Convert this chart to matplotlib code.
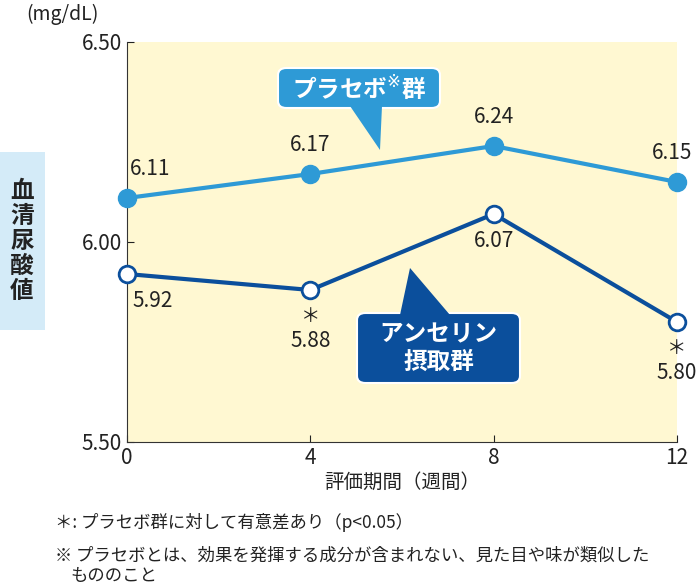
import matplotlib
matplotlib.use("Agg")
import matplotlib.pyplot as plt
from matplotlib.patches import FancyBboxPatch, Polygon

plt.rcParams["font.family"] = "Noto Sans CJK JP"

weeks = [0, 4, 8, 12]
placebo = [6.11, 6.17, 6.24, 6.15]
anserine = [5.92, 5.88, 6.07, 5.80]
sig = [False, True, False, True]
yticks = [5.50, 6.00, 6.50]

cP = "#2E9AD6"
cA = "#0B4F9C"

fig = plt.figure(figsize=(7, 5.87), dpi=100)
ax = fig.add_axes([127/700, 1-442/587, 550/700, 400/587])
ax.set_facecolor("#FFF8D2")
ax.set_xlim(0, 12)
ax.set_ylim(5.5, 6.5)
for s in ["top", "right"]:
    ax.spines[s].set_visible(False)
ax.spines["left"].set_color("#333333")
ax.spines["bottom"].set_color("#333333")
ax.set_xticks(weeks)
ax.set_yticks(yticks)
ax.set_yticklabels([f"{v:.2f}" for v in yticks])
ax.tick_params(labelsize=15, colors="#222222", direction="in", length=5)

ax.plot(weeks, placebo, color=cP, lw=3, marker="o", ms=13, zorder=3, clip_on=False)
ax.plot(weeks, anserine, color=cA, lw=3, marker="o", ms=12, mfc="white",
        mec=cA, mew=2, zorder=3, clip_on=False)

for x, v in zip(weeks, placebo):
    dx = 0.5 if x == 0 else (-0.1 if x == 12 else 0)
    ax.text(x + dx, v + 0.045, f"{v:.2f}", ha="center", va="bottom", fontsize=15, color="#222222")
for x, v, s in zip(weeks, anserine, sig):
    dx = 0.55 if x == 0 else 0
    if s:
        ax.text(x, v - 0.04, "＊", ha="center", va="top", fontsize=14, color="#222222")
        ax.text(x, v - 0.1, f"{v:.2f}", ha="center", va="top", fontsize=15, color="#222222")
    else:
        ax.text(x + dx, v - 0.04, f"{v:.2f}", ha="center", va="top", fontsize=15, color="#222222")

ax.set_xlabel("評価期間（週間）", fontsize=14, color="#222222", labelpad=2)

def px(x, y):
    return (x/700, 1-y/587)

def callout(x0, y0, x1, y1, tri, color, text):
    b = FancyBboxPatch(px(x0, y1), (x1-x0)/700, (y1-y0)/587,
                       boxstyle="round,pad=0,rounding_size=0.012",
                       transform=fig.transFigure, fc=color, ec="white", lw=1.5, zorder=5)
    fig.patches.append(b)
    p = Polygon([px(*t) for t in tri], closed=True, transform=fig.transFigure,
                fc=color, ec="none", zorder=6)
    fig.patches.append(p)
    fig.text(*px((x0+x1)/2, (y0+y1)/2), text, ha="center", va="center",
             fontsize=17, color="white", fontweight="bold", zorder=7, linespacing=1.15)

callout(278, 68, 440, 108, [(350, 106), (380, 150), (382, 106)], cP, "プラセボ$^{※}$群")
callout(357, 313, 520, 383, [(400, 315), (410, 268), (450, 315)], cA, "アンセリン\n摂取群")

fig.text(*px(62, 14), "(mg/dL)", fontsize=14, ha="center", va="center", color="#222222")

yb = FancyBboxPatch(px(0, 330), 45/700, 178/587, boxstyle="square,pad=0",
                    transform=fig.transFigure, fc="#D4EBF8", ec="none")
fig.patches.append(yb)
fig.text(*px(22, 241), "\n".join("血清尿酸値"), ha="center", va="center",
         fontsize=17, fontweight="bold", color="#222222", linespacing=1.05)

fig.text(*px(55, 523), "＊: プラセボ群に対して有意差あり（p<0.05）", fontsize=12.5, va="center", color="#222222")
fig.text(*px(55, 556), "※ プラセボとは、効果を発揮する成分が含まれない、見た目や味が類似した", fontsize=12.5, va="center", color="#222222")
fig.text(*px(70, 576), "もののこと", fontsize=12.5, va="center", color="#222222")

fig.savefig("out.png", dpi=100)
